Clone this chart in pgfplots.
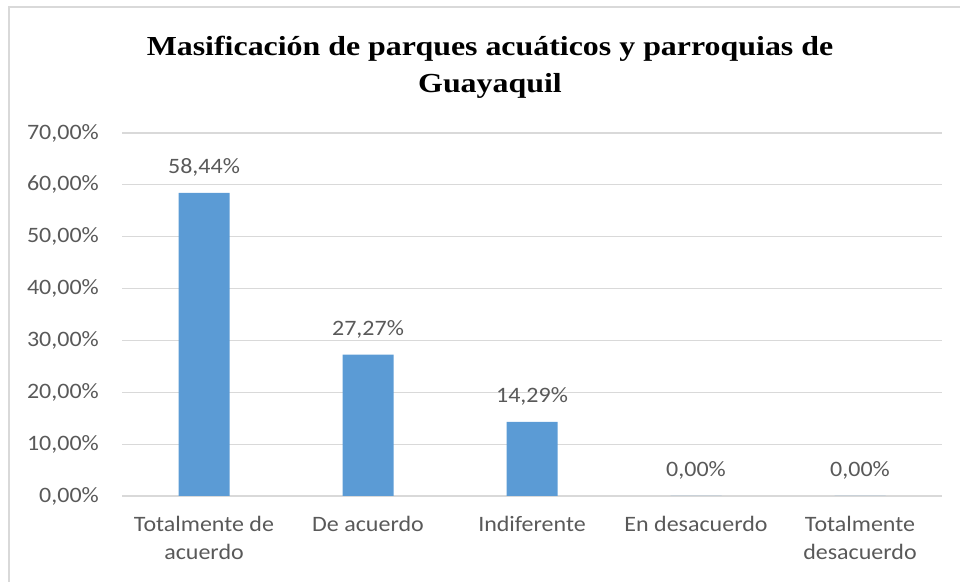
\documentclass[border=0pt]{standalone}
\usepackage{pgfplots}
\pgfplotsset{compat=1.18}
\usepackage{fontspec}
\setmainfont{Carlito}[FakeStretch=1.09]
\newfontfamily\titlefont{Liberation Serif}[FakeStretch=1.16]
\definecolor{barblue}{HTML}{5B9BD5}
\definecolor{txtgray}{HTML}{595959}
\definecolor{gridgray}{HTML}{D9D9D9}
\begin{document}
\begin{tikzpicture}
\path[use as bounding box] (0,0) rectangle (960bp,582bp);
\draw[gridgray, line width=2.5bp] (9bp,0) -- (9bp,575bp) -- (960bp,575bp);
\node[font=\titlefont\bfseries\fontsize{27.5bp}{37bp}\selectfont, align=center, anchor=center] at (490bp,515bp) {Masificación de parques acuáticos y parroquias de\\Guayaquil};
\begin{axis}[
  at={(122bp,86bp)}, anchor=south west,
  scale only axis, width=820bp, height=363bp,
  ybar, bar width=51bp,
  xmin=-0.5, xmax=4.5, ymin=0, ymax=70,
  ytick={0,10,...,70},
  yticklabels={{0,00\%},{10,00\%},{20,00\%},{30,00\%},{40,00\%},{50,00\%},{60,00\%},{70,00\%}},
  xtick={0,1,2,3,4},
  xticklabels={{Totalmente de\\acuerdo},{De acuerdo},{Indiferente},{En desacuerdo},{Totalmente\\desacuerdo}},
  axis line style={draw=none},
  major tick length=0pt,
  ymajorgrids, grid style={gridgray, line width=1.2bp},
  tick label style={font=\fontsize{22bp}{28bp}\selectfont, text=txtgray},
  yticklabel style={anchor=east, inner sep=0pt, xshift=-23bp},
  xticklabel style={align=center, anchor=north, inner sep=0pt, yshift=-20bp},
  /pgf/number format/assume math mode=true,
  nodes near coords={\pgfmathprintnumber[fixed,fixed zerofill,precision=2,use comma]{\pgfplotspointmeta}\%},
  every node near coord/.append style={font=\fontsize{22bp}{25bp}\selectfont, text=txtgray, anchor=south, inner sep=0pt, yshift=16bp},
  clip=false,
]
\addplot[fill=barblue, draw=none] coordinates {(0,58.44) (1,27.27) (2,14.29) (3,0) (4,0)};
\end{axis}
\end{tikzpicture}
\end{document}
